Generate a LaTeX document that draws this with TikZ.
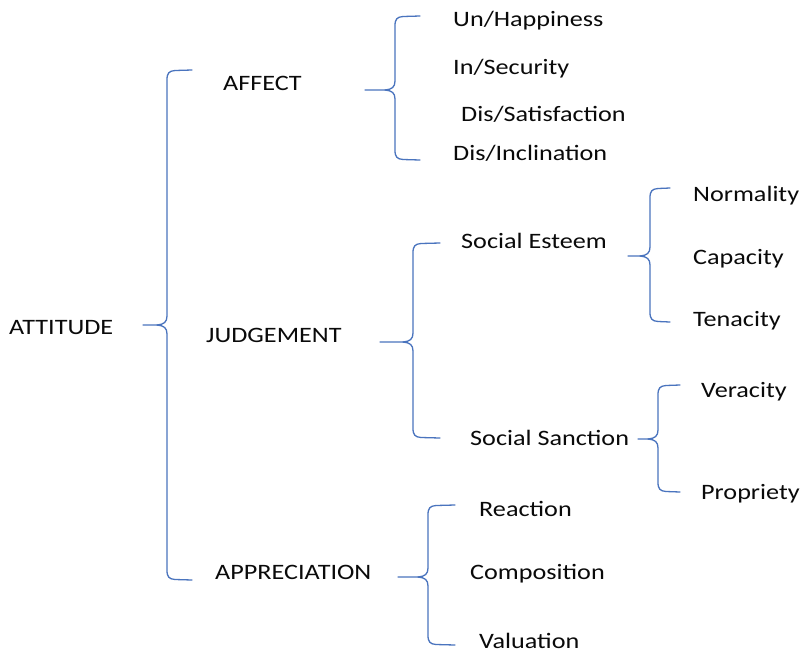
\documentclass[tikz,border=0pt]{standalone}
\usepackage{fontspec}
\setmainfont{Carlito}[FakeStretch=1.19]
\definecolor{bl}{HTML}{4A74BE}
\definecolor{tx}{HTML}{0A0A0A}
\tikzset{
  lbl/.style={anchor=base west, inner sep=0pt, text=tx, font=\fontsize{22}{26}\selectfont},
  br/.style={draw=bl, line width=1.3pt, line join=round, line cap=round}
}
\newcommand\cbrace[7]{%
  \coordinate (#1-tip) at (#2,#3);
  \coordinate (#1-top) at (#7,#5);
  \coordinate (#1-bot) at (#7,#6);
  \draw[br] (#1-top) -- (#4+8,#5+0.5) .. controls (#4+2,#5+1) and (#4,#5+3) .. (#4,#5+10)
    -- (#4,#3-9) .. controls (#4,#3-3) and (#4-3,#3-0.5) .. (#4-10,#3) -- (#1-tip);
  \draw[br] (#4-10,#3) .. controls (#4-3,#3+0.5) and (#4,#3+3) .. (#4,#3+9)
    -- (#4,#6-10) .. controls (#4,#6-3) and (#4+2,#6-1) .. (#4+8,#6-0.5) -- (#1-bot);
}
\begin{document}
\begin{tikzpicture}[x=1pt,y=-1pt]
\fill[white] (0,0) rectangle (804,654);
\useasboundingbox (0,0) rectangle (804,654);
% labels
\node[lbl] (att) at (9,334) {ATTITUDE};
\node[lbl] (aff) at (223,90) {AFFECT};
\node[lbl] (jud) at (206,342) {JUDGEMENT};
\node[lbl] (app) at (215,579) {APPRECIATION};
\node[lbl] (hap) at (453,26) {Un/Happiness};
\node[lbl] (sec) at (453,74) {In/Security};
\node[lbl] (sat) at (461,121) {Dis/Satisfaction};
\node[lbl] (inc) at (453,160) {Dis/Inclination};
\node[lbl] (est) at (461,248) {Social Esteem};
\node[lbl] (san) at (470,445) {Social Sanction};
\node[lbl] (nor) at (693,201) {Normality};
\node[lbl] (cap) at (693,264) {Capacity};
\node[lbl] (ten) at (693,326) {Tenacity};
\node[lbl] (ver) at (701,397) {Veracity};
\node[lbl] (pro) at (701,499) {Propriety};
\node[lbl] (rea) at (479,516) {Reaction};
\node[lbl] (com) at (470,579) {Composition};
\node[lbl] (val) at (479,648) {Valuation};
% braces
\cbrace{b1}{143}{325}{167}{70}{580}{192}
\cbrace{b2}{365}{90}{395}{16}{160}{420}
\cbrace{b3}{380}{342}{413}{243}{438}{440}
\cbrace{b4}{628}{256}{650}{188}{322}{670}
\cbrace{b5}{638}{439}{658}{385}{492}{680}
\cbrace{b6}{398}{577}{428}{505}{645}{455}
\end{tikzpicture}
\end{document}
